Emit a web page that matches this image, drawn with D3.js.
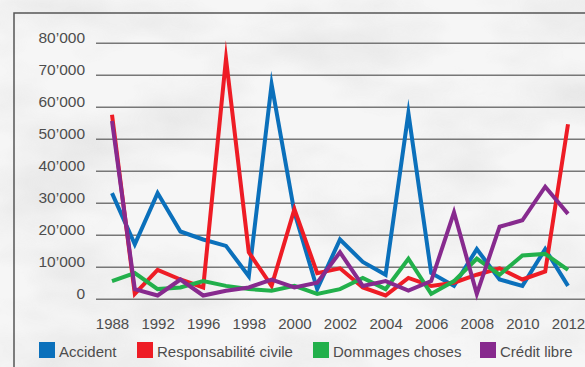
<!DOCTYPE html>
<html>
<head>
<meta charset="utf-8">
<script src="https://cdn.jsdelivr.net/npm/d3@7"></script>
<style>
  html, body { margin: 0; padding: 0; background: #f5f5f5; }
  svg { display: block; }
  text { font-family: "Liberation Sans", Arial, Helvetica, sans-serif; }
</style>
</head>
<body>
<svg id="chart" width="585" height="367"></svg>
<script>
// Survey periods (biennial up to 1996, then yearly)
const years = ["1988","1990","1992","1994","1996","1997","1998","1999","2000","2001","2002",
               "2003","2004","2005","2006","2007","2008","2009","2010","2011","2012"];
const tickYears = ["1988","1992","1996","1998","2000","2002","2004","2006","2008","2010","2012"];
const yTicks = [0, 10000, 20000, 30000, 40000, 50000, 60000, 70000, 80000];

const seriesNames = ["Accident", "Responsabilité civile", "Dommages choses", "Crédit libre"];
const seriesColors = ["#0b70bb", "#ee1c25", "#22b04b", "#872a8e"];

const accident = [33000,17000,33000,21000,18500,16500,7000,67000,27000,3000,18500,
                  11500,7500,58000,8000,4000,15500,6000,4000,15500,4000];
const responsabilite = [57500,1500,9000,6000,3500,75000,14500,4000,28000,8000,9500,
                        3500,1000,6500,4000,5000,7500,9500,6000,8500,54500];
const dommages = [5500,8000,3000,3500,5500,4000,3000,2500,4000,1500,3000,
                  6500,3000,12500,1500,5500,12500,7500,13500,14000,9000];
const credit = [55500,3000,1000,6000,1000,2500,3500,6000,3500,5000,14500,
                4000,5500,2500,5500,27000,1500,22500,24500,35000,26500];

const seriesValues = [accident, responsabilite, dommages, credit];

const W = 585, H = 367;
const svg = d3.select("#chart");

// Marbled paper background
const defs = svg.append("defs");
const marble = defs.append("filter").attr("id", "marble")
  .attr("x", 0).attr("y", 0).attr("width", "100%").attr("height", "100%");
marble.append("feTurbulence").attr("type", "fractalNoise")
  .attr("baseFrequency", "0.006 0.012").attr("numOctaves", 4).attr("seed", 7).attr("result", "noise");
marble.append("feColorMatrix").attr("in", "noise").attr("type", "matrix")
  .attr("values", "0 0 0 0 0.45  0 0 0 0 0.45  0 0 0 0 0.45  1.0 0 0 0 -0.45");
svg.append("rect").attr("width", W).attr("height", H).attr("fill", "#f6f6f6");
svg.append("rect").attr("width", W).attr("height", H).attr("filter", "url(#marble)").attr("opacity", 0.6);

// Frame (top and left edges)
svg.append("path")
  .attr("d", `M14,${H}V13H${W}`)
  .attr("fill", "none").attr("stroke", "#555").attr("stroke-width", 1.5);

const x = d3.scalePoint().domain(years).range([112, 568]);
const y = d3.scaleLinear().domain([0, 80000]).range([298.7, 42.7]);

const fmt = v => d3.format(",")(v).replace(/,/g, "\u2019");

// Y axis with full-width gridlines
const yAxis = svg.append("g")
  .attr("transform", "translate(96,0)")
  .call(d3.axisLeft(y).tickValues(yTicks).tickFormat(fmt).tickSize(-(W - 96)).tickPadding(11));
yAxis.select(".domain").remove();
yAxis.selectAll(".tick line").attr("stroke", "#777").attr("stroke-width", 1.5);
yAxis.selectAll(".tick text")
  .attr("dy", 0).attr("fill", "#4d4d4d")
  .style("font-size", "15.5px").style("font-family", "'Liberation Sans', Arial, sans-serif");

// X axis labels
const xAxis = svg.append("g")
  .attr("transform", "translate(0,299)")
  .call(d3.axisBottom(x).tickValues(tickYears).tickSize(0).tickPadding(0));
xAxis.select(".domain").remove();
xAxis.selectAll(".tick text")
  .attr("y", 29.5).attr("dy", 0).attr("fill", "#4d4d4d")
  .style("font-size", "15px").style("font-family", "'Liberation Sans', Arial, sans-serif");

// Series lines
const line = d3.line().x((d, i) => x(years[i])).y(d => y(d));
svg.append("g").selectAll("path")
  .data(seriesValues)
  .join("path")
  .attr("d", d => line(d))
  .attr("fill", "none")
  .attr("stroke", (d, i) => seriesColors[i])
  .attr("stroke-width", 4)
  .attr("stroke-linejoin", "miter")
  .attr("stroke-miterlimit", 30)
  .attr("stroke-linecap", "butt");

// Legend
const legendX = [39, 137, 313, 480];
const legend = svg.append("g").selectAll("g")
  .data(seriesNames)
  .join("g")
  .attr("transform", (d, i) => `translate(${legendX[i]},342)`);
legend.append("rect").attr("width", 16).attr("height", 16)
  .attr("fill", (d, i) => seriesColors[i]);
legend.append("text").attr("x", 20).attr("y", 15)
  .attr("fill", "#4d4d4d").style("font-size", "15px")
  .text(d => d);
</script>
</body>
</html>
